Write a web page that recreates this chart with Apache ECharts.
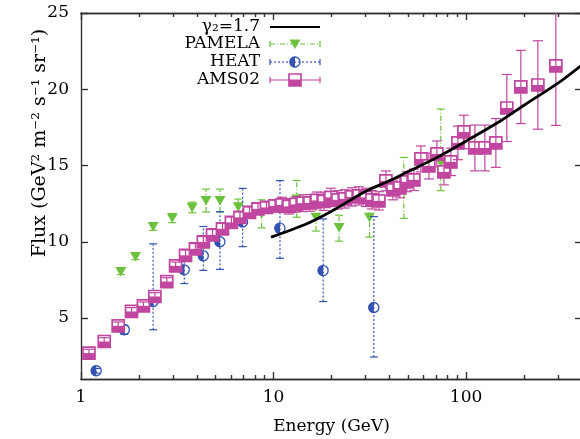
<!DOCTYPE html>
<html lang="en">
<head>
<meta charset="UTF-8">
<title>Positron flux</title>
<script src="https://cdn.jsdelivr.net/npm/echarts@6/dist/echarts.min.js"></script>
<style>html,body{margin:0;padding:0;background:#fff}</style>
</head>
<body>
<div id="chart" style="width:580px;height:439px;"></div>
<script>
// AMS02: energy (GeV), flux, error
var amsE = [1.10, 1.32, 1.56, 1.83, 2.11, 2.42, 2.79, 3.10, 3.49, 3.93, 4.32, 4.82, 5.43, 6.04, 6.69, 7.50, 8.30, 9.19,
  10.17, 11.06, 12.02, 13.07, 14.21, 15.45, 16.80, 18.27, 19.86, 21.60, 23.48, 25.53, 27.76, 30.19, 32.43, 35.26,
  38.34, 41.69, 45.33, 49.28, 53.58, 58.26, 64.12, 70.54, 76.70, 83.4, 90.7, 97.4, 111.1, 125.2, 142.8, 162.8, 192.5, 236, 292.6]
var amsF = [2.70, 3.46, 4.49, 5.43, 5.80, 6.41, 7.39, 8.42, 9.11, 9.53, 9.99, 10.45, 10.85, 11.27, 11.60, 11.93, 12.16, 12.25,
  12.35, 12.42, 12.32, 12.45, 12.53, 12.55, 12.71, 12.65, 12.91, 12.75, 12.81, 12.94, 13.01, 12.91, 12.75, 12.68,
  13.99, 13.40, 13.53, 13.93, 14.06, 15.43, 14.97, 15.76, 14.58, 15.24, 16.48, 17.20, 16.15, 16.15, 16.48, 18.77, 20.15, 20.28, 21.53]
var amsErr = [0.25, 0.25, 0.25, 0.25, 0.25, 0.25, 0.25, 0.25, 0.35, 0.35, 0.35, 0.35, 0.35, 0.35, 0.35, 0.35, 0.35, 0.35,
  0.4, 0.5, 0.5, 0.5, 0.55, 0.55, 0.55, 0.6, 0.6, 0.6, 0.6, 0.6, 0.6, 0.6, 0.6, 0.6,
  0.65, 0.65, 0.65, 0.65, 0.7, 0.85, 0.85, 0.85, 0.85, 0.9, 1.1, 1.1, 1.5, 1.5, 1.6, 2.2, 2.4, 2.9, 3.9]

// PAMELA
var pamE = [1.61, 1.92, 2.37, 2.98, 3.78, 4.46, 5.27, 6.56, 8.67, 13.2, 16.6, 21.9, 31.5, 47.5, 73.9]
var pamF = [8.05, 9.03, 11.0, 11.55, 12.25, 12.7, 12.7, 12.3, 11.83, 12.81, 11.6, 10.94, 11.6, 13.53, 15.2]
var pamLo = [0.2, 0.2, 0.25, 0.3, 0.35, 0.75, 0.75, 0.5, 0.92, 1.2, 0.9, 0.9, 1.3, 2.0, 1.85]
var pamHi = [0.2, 0.2, 0.25, 0.3, 0.35, 0.75, 0.75, 0.5, 0.92, 1.2, 0.9, 0.8, 1.3, 2.0, 3.5]

// HEAT
var heatE = [1.20, 1.68, 2.37, 3.44, 4.32, 5.27, 6.91, 10.8, 18.1, 33.2]
var heatF = [1.54, 4.23, 6.08, 8.16, 9.08, 10.0, 11.3, 10.89, 8.11, 5.69]
var heatLo = [0.15, 0.3, 1.85, 0.9, 0.96, 1.81, 1.62, 1.97, 2.03, 3.25]
var heatHi = [0.15, 0.3, 3.78, 1.03, 1.92, 1.97, 2.2, 3.12, 3.39, 5.96]

// gamma2 = 1.7 model
var fitE = [9.7, 15, 20, 30, 40, 50, 70, 100, 150, 200, 300, 400]
var fitF = [10.3, 11.2, 12.0, 13.3, 14.0, 14.6, 15.5, 16.6, 17.9, 18.95, 20.4, 21.6]

var xMajor = [1, 10, 100]
var xMinor = [2, 3, 4, 5, 6, 7, 8, 9, 20, 30, 40, 50, 60, 70, 80, 90, 200, 300, 400]
var yTicks = [5, 10, 15, 20, 25]

var serif = 'DejaVu Serif'
var axisColor = '#333'
var cAms = '#c0469f', cPam = '#6cc23c', cHeat = '#3352b4'

function errBars(x, yl, yh, hw, color, dash) {
  return [
    { type: 'line', shape: { x1: x, y1: yl, x2: x, y2: yh }, style: { stroke: color, lineWidth: 1.2, lineDash: dash } },
    { type: 'line', shape: { x1: x - hw, y1: yl, x2: x + hw, y2: yl }, style: { stroke: color, lineWidth: 1.2 } },
    { type: 'line', shape: { x1: x - hw, y1: yh, x2: x + hw, y2: yh }, style: { stroke: color, lineWidth: 1.2 } }
  ]
}

function amsMarker(x, y) {
  return [
    { type: 'rect', shape: { x: x - 6, y: y - 6, width: 12, height: 12 }, style: { fill: '#fff', stroke: cAms, lineWidth: 1.7 } },
    { type: 'rect', shape: { x: x - 6, y: y, width: 12, height: 6 }, style: { fill: cAms } }
  ]
}
function pamMarker(x, y) {
  return [{ type: 'polygon', shape: { points: [[x - 5.5, y - 4.5], [x + 5.5, y - 4.5], [x, y + 5]] }, style: { fill: cPam } }]
}
function heatMarker(x, y) {
  return [
    { type: 'circle', shape: { cx: x, cy: y, r: 5 }, style: { fill: '#fff', stroke: cHeat, lineWidth: 1.3 } },
    { type: 'sector', shape: { cx: x, cy: y, r0: 0, r: 5.6, startAngle: Math.PI / 2, endAngle: Math.PI * 1.5 }, style: { fill: cHeat } }
  ]
}

function pointSeries(name, E, F, lo, hi, color, dash, hw, marker, markerFirst, z) {
  return {
    name: name, type: 'custom', z: z, clip: true,
    data: E.map(function (e, i) { return [e, F[i], F[i] - lo[i], F[i] + hi[i]] }),
    encode: { x: 0, y: [1, 2, 3] },
    renderItem: function (params, api) {
      var p = api.coord([api.value(0), api.value(1)])
      var a = api.coord([api.value(0), api.value(2)])
      var b = api.coord([api.value(0), api.value(3)])
      var bars = errBars(p[0], a[1], b[1], hw, color, dash)
      var m = marker(p[0], p[1])
      return { type: 'group', children: markerFirst ? m.concat(bars) : bars.concat(m) }
    }
  }
}

// legend drawn by hand (gnuplot style: text right, sample on the right)
var legendRows = [27, 44, 62, 80]
var legendNames = ['γ₂=1.7', 'PAMELA', 'HEAT', 'AMS02']
var graphics = []
legendNames.forEach(function (t, i) {
  graphics.push({ type: 'text', style: { text: t, x: 260, y: legendRows[i], textAlign: 'right', textVerticalAlign: 'middle', font: '17px "' + serif + '"', fill: '#000' } })
})
function capPair(row, color) {
  return [
    { type: 'line', shape: { x1: 270, y1: row - 3, x2: 270, y2: row + 3 }, style: { stroke: color, lineWidth: 1.2 } },
    { type: 'line', shape: { x1: 320, y1: row - 3, x2: 320, y2: row + 3 }, style: { stroke: color, lineWidth: 1.2 } }
  ]
}
function sampleLine(row, color, dash) {
  return [{ type: 'line', shape: { x1: 270, y1: row, x2: 320, y2: row }, style: { stroke: color, lineWidth: 1.2, lineDash: dash } }]
}
graphics.push({ type: 'line', shape: { x1: 270, y1: legendRows[0], x2: 320, y2: legendRows[0] }, style: { stroke: '#000', lineWidth: 2 } })
graphics.push({ type: 'group', children: capPair(legendRows[1], cPam).concat(sampleLine(legendRows[1], cPam, [5, 2, 1, 2])).concat(pamMarker(295, legendRows[1])) })
graphics.push({ type: 'group', children: capPair(legendRows[2], cHeat).concat(heatMarker(295, legendRows[2])).concat(sampleLine(legendRows[2], cHeat, [2, 2])) })
graphics.push({ type: 'group', children: amsMarker(295, legendRows[3]).concat(capPair(legendRows[3], cAms)).concat(sampleLine(legendRows[3], cAms, null)) })

// y title, placed like the original (upper part of the axis)
graphics.push({
  type: 'text', x: 40, y: 143, rotation: Math.PI / 2,
  style: { text: 'Flux (GeV² m⁻² s⁻¹ sr⁻¹)', textAlign: 'center', textVerticalAlign: 'middle', font: '19px "' + serif + '"', fill: '#000' }
})

var lineSt = { color: axisColor, width: 1.4 }
function xAx(pos, ticks, len, labels) {
  return {
    type: 'log', logBase: 10, min: 1, max: 400, position: pos,
    axisLine: { show: true, onZero: false, lineStyle: lineSt },
    axisTick: { show: true, inside: true, length: len, customValues: ticks, lineStyle: lineSt },
    axisLabel: labels ? { customValues: ticks, margin: 10, color: '#000', fontFamily: serif, fontSize: 17, formatter: function (v) { return String(Math.round(v)) } } : { show: false },
    splitLine: { show: false }, minorTick: { show: false }
  }
}
var xAxes = [xAx('bottom', xMajor, 7, true), xAx('bottom', xMinor, 4, false), xAx('top', xMajor, 7, false), xAx('top', xMinor, 4, false)]
xAxes[0].name = 'Energy (GeV)'
xAxes[0].nameLocation = 'middle'
xAxes[0].nameGap = 39
xAxes[0].nameTextStyle = { color: '#000', fontFamily: serif, fontSize: 17 }

var option = {
  animation: false,
  backgroundColor: '#fff',
  grid: { left: 81, top: 13, right: -2, bottom: 60, containLabel: false, outerBoundsMode: 'none' },
  xAxis: xAxes,
  yAxis: [
    {
      type: 'value', min: 1, max: 25, position: 'left',
      axisLine: { show: true, onZero: false, lineStyle: lineSt },
      axisTick: { show: true, inside: true, length: 7, customValues: yTicks, lineStyle: lineSt },
      axisLabel: { customValues: yTicks, margin: 12, color: '#000', fontFamily: serif, fontSize: 17 },
      splitLine: { show: false }
    },
    {
      type: 'value', min: 1, max: 25, position: 'right',
      axisLine: { show: true, onZero: false, lineStyle: lineSt },
      axisTick: { show: true, inside: true, length: 7, customValues: yTicks, lineStyle: lineSt },
      axisLabel: { show: false }, splitLine: { show: false }
    }
  ],
  graphic: graphics,
  series: [
    pointSeries('PAMELA', pamE, pamF, pamLo, pamHi, cPam, [5, 2, 1, 2], 4, pamMarker, false, 2),
    pointSeries('HEAT', heatE, heatF, heatLo, heatHi, cHeat, [2, 2], 4, heatMarker, true, 3),
    pointSeries('AMS02', amsE, amsF, amsErr, amsErr, cAms, null, 5, amsMarker, true, 4),
    {
      name: 'γ2=1.7', type: 'line', z: 10, smooth: 0.3, showSymbol: false,
      data: fitE.map(function (e, i) { return [e, fitF[i]] }),
      lineStyle: { color: '#000', width: 2.8 }
    }
  ]
}
var chart = echarts.init(document.getElementById('chart'))
chart.setOption(option)
</script>
</body>
</html>
